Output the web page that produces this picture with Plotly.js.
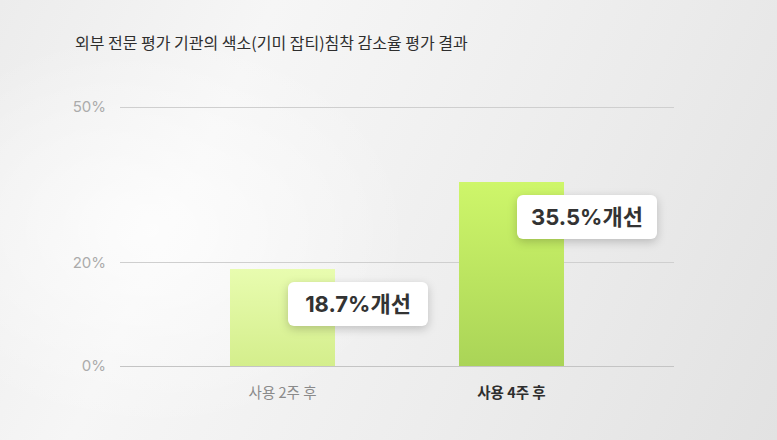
<!DOCTYPE html>
<html>
<head>
<meta charset="utf-8">
<script src="https://cdn.plot.ly/plotly-3.0.1.min.js"></script>
<style>
  html, body { margin: 0; padding: 0; }
  body {
    width: 777px;
    height: 440px;
    overflow: hidden;
    background:
      radial-gradient(ellipse 260px 200px at 150px 230px, rgba(255,255,255,0.75), rgba(255,255,255,0) 100%),
      linear-gradient(115deg, #ececec 0%, #f6f6f6 28%, #f2f2f2 45%, #ebebeb 70%, #e2e2e2 100%);
  }
  #chart { width: 777px; height: 440px; }
  .annotation-text-g rect.bg { filter: drop-shadow(0 3px 5px rgba(0, 0, 0, 0.2)); }
</style>
</head>
<body>
<div id="chart"></div>
<script>
  const categories = ["사용 2주 후", "사용 4주 후"];
  const tickLabels = [
    '<span style="color:#8a8a8a">사용 2주 후</span>',
    '<b><span style="color:#2e2e2e">사용 4주 후</span></b>',
  ];
  const values = [18.7, 35.5];
  const valueLabels = ["18.7%개선", "35.5%개선"];
  const yTicks = [0, 20, 50];
  const yTickText = ["0%", "20%", "50%"];
  const chartTitle = "외부 전문 평가 기관의 색소(기미 잡티)침착 감소율 평가 결과";

  const barGradients = [
    ["#e8fcaf", "#d4ee8c"],
    ["#cef66a", "#aad457"],
  ];

  const fontFamily = "Inter, 'Noto Sans CJK KR', sans-serif";

  const trace = {
    type: "bar",
    x: categories.map((_, i) => i),
    y: values,
    width: 0.46,
    marker: { color: barGradients.map((g) => g[1]), line: { width: 0 } },
    hoverinfo: "skip",
  };

  const annotations = values.map((v, i) => ({
    x: i + 0.33,
    y: v,
    xref: "x",
    yref: "y",
    yshift: -35,
    text: "<b>" + valueLabels[i] + "</b>",
    showarrow: false,
    font: { family: fontFamily, size: 22, color: "#333333" },
    bgcolor: "#ffffff",
    borderwidth: 0,
    borderpad: 8,
    width: 124,
    height: 28,
    xanchor: "center",
    yanchor: "middle",
  }));

  const layout = {
    width: 777,
    height: 440,
    paper_bgcolor: "rgba(0,0,0,0)",
    plot_bgcolor: "rgba(0,0,0,0)",
    margin: { l: 120, r: 103, t: 102, b: 74 },
    showlegend: false,
    font: { family: fontFamily },
    title: {
      text: chartTitle,
      x: 75 / 777,
      xref: "container",
      xanchor: "left",
      y: 1 - 43 / 440,
      yref: "container",
      yanchor: "middle",
      font: { family: "'Noto Sans CJK KR', sans-serif", size: 16, color: "#2e2e2e" },
    },
    xaxis: {
      range: [-0.71, 1.71],
      tickvals: categories.map((_, i) => i),
      ticktext: tickLabels,
      showgrid: false,
      zeroline: false,
      showline: false,
      ticks: "",
      ticklen: 0,
      ticklabelstandoff: 16,
      tickfont: { family: "'Noto Sans CJK KR', sans-serif", size: 14.5 },
      fixedrange: true,
    },
    yaxis: {
      range: [0, 51],
      tickvals: yTicks,
      ticktext: yTickText,
      showgrid: true,
      gridcolor: "#cfcfcf",
      gridwidth: 1,
      zeroline: true,
      zerolinecolor: "#c4c4c4",
      zerolinewidth: 1,
      showline: false,
      ticks: "",
      ticklabelstandoff: 13,
      tickfont: { family: fontFamily, size: 15, color: "#ababab" },
      fixedrange: true,
    },
    annotations: annotations,
    bargap: 0,
  };

  Plotly.newPlot("chart", [trace], layout, { displayModeBar: false, staticPlot: true }).then(() => {
    const svg = document.querySelector("#chart .main-svg");
    const ns = "http://www.w3.org/2000/svg";
    let defs = svg.querySelector("defs");
    if (!defs) {
      defs = document.createElementNS(ns, "defs");
      svg.insertBefore(defs, svg.firstChild);
    }
    barGradients.forEach((g, i) => {
      const grad = document.createElementNS(ns, "linearGradient");
      grad.setAttribute("id", "bargrad" + i);
      grad.setAttribute("x1", "0");
      grad.setAttribute("y1", "0");
      grad.setAttribute("x2", "0");
      grad.setAttribute("y2", "1");
      [["0%", g[0]], ["100%", g[1]]].forEach(([off, col]) => {
        const stop = document.createElementNS(ns, "stop");
        stop.setAttribute("offset", off);
        stop.setAttribute("stop-color", col);
        grad.appendChild(stop);
      });
      defs.appendChild(grad);
    });
    document.querySelectorAll("#chart .bars .point path").forEach((p, i) => {
      p.style.fill = "url(#bargrad" + i + ")";
    });
    // rounded label boxes
    document.querySelectorAll("#chart .annotation-text-g rect.bg").forEach((r) => {
      r.setAttribute("rx", 6);
      r.setAttribute("ry", 6);
    });
  });
</script>
</body>
</html>
